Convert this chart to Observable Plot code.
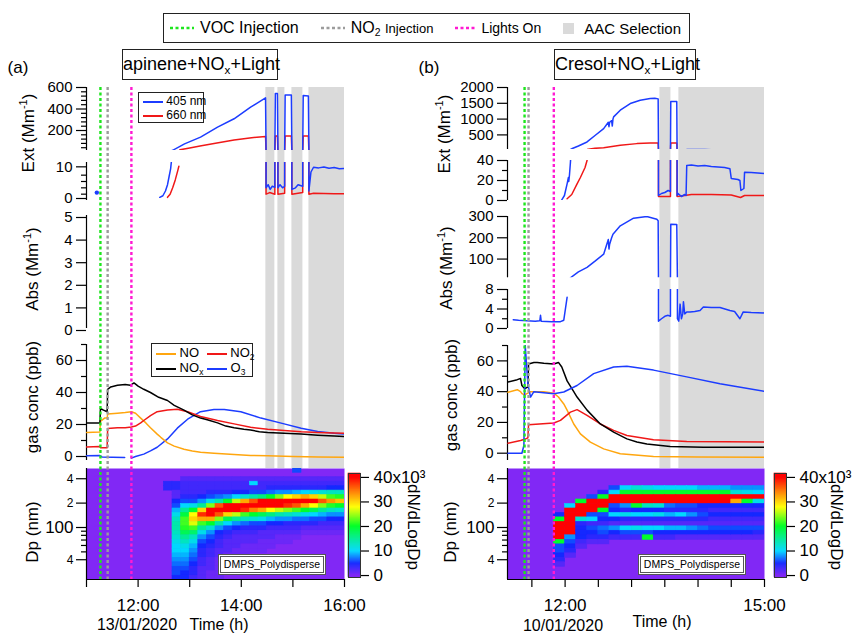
<!DOCTYPE html>
<html><head><meta charset="utf-8">
<script src="https://cdn.jsdelivr.net/npm/d3@7"></script>
<script src="https://cdn.jsdelivr.net/npm/@observablehq/plot@0.6"></script>
<style>
body{margin:0;background:#fff;}
#root{position:relative;width:853px;height:634px;overflow:hidden;font-family:"Liberation Sans",Arial,Helvetica,sans-serif;color:#000;}
sub{font-size:0.65em;vertical-align:-0.3em;line-height:0;}
sup{font-size:0.65em;vertical-align:0.55em;line-height:0;}
.box{position:absolute;border:1.5px solid #222;background:#fff;box-sizing:border-box;white-space:nowrap;}
</style></head><body><div id="root"></div>
<script>
// ---------------- DATA ----------------
// times in decimal hours
const timeTicksA = [11, 12, 13, 14, 15, 16];
const timeLabelsA = {12: "12:00", 14: "14:00", 16: "16:00"};
const timeTicksB = [11.5, 12, 12.5, 13, 13.5, 14, 14.5, 15];
const timeLabelsB = {12: "12:00", 15: "15:00"};

const vocInjection = {a: 11.27, b: 11.39};
const no2Injection = {a: 11.41, b: 11.45};
const lightsOn = {a: 11.87, b: 11.83};
const aacA = [[14.476, 14.650], [14.709, 14.845], [14.981, 15.194], [15.311, 16.0]];
const aacB = [[13.427, 13.592], [13.712, 15.0]];

// Ext (Mm-1), panel a
const ext405A_early = [[11.2, 2.5]];
const ext405A = [
 [12.42,1],[12.48,1.5],[12.53,3],[12.57,5],[12.60,7.5],[12.63,10],[12.65,13],[12.67,16],[12.90,76],[13.21,138],[13.54,231],[13.86,309],[14.18,417],[14.47,504],
 [14.48,4],[14.52,5],[14.56,3.5],[14.60,4.5],[14.65,4.2],
 [14.66,545],[14.70,545],
 [14.71,4],[14.75,5],[14.80,4],[14.84,4.5],
 [14.85,530],[14.97,530],
 [14.98,3.5],[15.05,4],[15.10,5],[15.19,4.5],
 [15.20,525],[15.30,520],
 [15.31,3],[15.35,9],[15.40,10.5],[15.50,10.3],[15.60,10.6],[15.70,10.2],[15.80,10.4],[15.90,10],[16.0,10.1]
];
const ext660A = [
 [12.57,1],[12.62,2],[12.67,4],[12.72,6.5],[12.77,9.5],[12.79,10.8],[null,null],
 [12.81,20],[13.0,38],[13.2,55],[13.5,82],[13.86,112],[14.2,133],[14.47,145],
 [14.48,2],[14.55,2.5],[14.65,2],
 [14.66,150],[14.70,150],
 [14.71,2],[14.84,2.3],
 [14.85,148],[14.97,148],
 [14.98,2],[15.19,2.5],
 [15.20,148],[15.30,148],
 [15.31,2],[15.40,2.3],[15.60,2.2],[15.80,2.1],[16.0,2.1]
];
// Ext (Mm-1), panel b
const ext405B = [
 [11.95,0.7],[11.99,5],[12.03,16.7],[12.05,23],[12.055,19],[12.065,25],[12.08,38],[12.10,60],[12.2,150],[12.33,277],[12.45,480],[12.58,700],[12.65,900],[12.66,760],[12.67,900],[12.70,950],[12.71,780],[12.72,1000],[12.73,1070],[12.83,1281],[12.98,1493],[13.13,1598],[13.28,1651],[13.35,1660],[13.40,1640],
 [13.405,5],[13.45,7],[13.50,8],[13.55,10],[13.585,9],
 [13.59,1560],[13.68,1555],
 [13.685,5],[13.70,7],[13.75,4],[13.80,6],[13.82,5],
 [13.83,35],[13.9,35.5],[14.0,34.5],[14.1,35],[14.2,34],[14.3,33.5],[14.4,33],[14.48,31.7],
 [14.50,22],[14.6,21],[14.63,20],[14.645,10],[14.69,12],
 [14.70,28.3],[14.8,28],[14.9,27.5],[15.0,27]
];
const ext660B = [
 [12.03,1.7],[12.10,6],[12.18,16.7],[12.23,23],[12.30,33],[12.33,40],[12.35,50],[12.45,75],[12.58,97],[12.83,171],[13.08,224],[13.28,240],[13.40,245],
 [13.405,4],[13.50,4],[13.585,4],
 [13.59,245],[13.68,245],
 [13.685,4],[13.80,5],[13.90,6],[14.20,6],[14.50,5.5],[14.64,3],[14.70,5],[15.0,5]
];
// Abs (Mm-1), panel b (405 nm)
const abs405B = [
 [11.22,1.8],[11.3,1.7],[11.43,1.6],[11.55,1.5],[11.62,1.6],[11.63,2.7],[11.64,1.5],[11.8,1.4],[11.93,1.4],[11.98,1.7],[12.03,6.4],[null,null],
 [12.08,12],[12.2,40],[12.33,61],[12.45,90],[12.58,123],[12.65,192],[12.66,147],[12.67,170],[12.70,200],[12.72,217],[12.83,256],[13.03,292],[13.23,300],[13.38,287],[13.40,280],
 [13.405,1.5],[13.45,2],[13.50,2.5],[13.55,2.7],[13.585,2.5],
 [13.59,264],[13.68,262],
 [13.69,2],[13.71,1.5],[13.73,5],[13.75,2],[13.77,3],[13.78,5.5],[13.80,3],[13.83,3.4],[13.88,3.4],[13.95,3.5],[14.03,3.7],[14.08,4.4],[14.2,4.3],[14.33,4.3],[14.48,3.7],[14.55,3.5],[14.63,2],[14.68,3.4],[14.8,3.3],[15.0,3.2]
];
// gas conc (ppb), panel a
const noxA = [[11.00,21],[11.15,21],[11.26,21],[11.27,30],[11.33,29],[11.40,28],[11.41,42],[11.47,43.5],[11.6,44.5],[11.75,45],[11.85,44.5],[11.92,46],[12.0,44],[12.11,42],[12.24,40],[12.4,37],[12.57,35],[12.7,32],[12.89,29],[13.05,26],[13.21,24],[13.34,23],[13.54,21],[13.7,19],[13.86,18],[14.05,17],[14.18,16.5],[14.35,15.5],[14.51,15],[14.83,14.5],[15.16,14],[15.48,13.3],[15.8,12.8],[16.0,12.5]];
const noA = [[11.00,15],[11.26,15.3],[11.27,22],[11.35,24],[11.40,24],[11.41,26.5],[11.6,27],[11.75,27.5],[11.87,28],[11.95,27],[12.05,24],[12.15,21],[12.24,18],[12.37,14],[12.44,12],[12.57,8.5],[12.7,6.5],[12.89,4.5],[13.05,3.5],[13.21,2.7],[13.47,2],[13.86,1.2],[14.18,0.7],[14.51,0.4],[15.0,0],[15.5,-0.3],[16.0,-0.4]];
const no2A = [[11.00,6],[11.26,6.2],[11.27,5.5],[11.40,5.5],[11.41,17.5],[11.6,18],[11.75,18],[11.87,18.5],[11.95,19],[12.05,21],[12.11,22.5],[12.24,25.5],[12.37,28],[12.57,29],[12.76,29.5],[12.96,28],[13.21,25],[13.54,22.5],[13.86,20.4],[14.18,18.3],[14.51,17],[14.83,16.3],[15.16,15.5],[15.48,15],[15.8,14.7],[16.0,14.5]];
const o3A = [[11.00,0.5],[11.26,0.6],[11.3,-0.3],[11.5,-0.5],[11.74,-0.6],[null,null],[11.87,-1],[11.95,0],[12.11,1.5],[12.24,3.5],[12.37,5.8],[12.57,11],[12.76,17.7],[12.96,23.3],[13.21,28],[13.47,29.4],[13.67,29.4],[13.99,28],[14.38,24],[14.83,20.4],[15.16,17.7],[15.48,15.6],[15.8,14.5],[16.0,14]];
// gas conc (ppb), panel b
const noxB = [[11.14,46.3],[11.28,47.8],[11.33,48.5],[11.35,44],[11.39,42],[11.44,43],[11.45,58],[11.53,59],[11.58,59],[11.68,58.5],[11.83,58],[11.90,59],[11.95,56],[12.03,47],[12.13,40],[12.18,36.5],[12.33,28],[12.53,19],[12.73,13.7],[12.93,9.3],[13.08,7.3],[13.23,6],[13.58,4.3],[14.08,3.9],[14.5,3.9],[15.0,3.9]];
const noB = [[11.14,39.6],[11.28,41.3],[11.33,40],[11.35,38.7],[11.39,38],[11.44,39],[11.48,40],[11.68,40],[11.83,39],[11.90,36.5],[11.98,32],[12.03,28],[12.13,19],[12.23,12.6],[12.38,7.2],[12.58,2.8],[12.83,-0.4],[13.33,-2.2],[14.0,-2.5],[15.0,-2.6]];
const no2B = [[11.14,6.5],[11.33,8.3],[11.39,9],[11.44,10],[11.45,18.5],[11.83,19.6],[11.93,21.3],[12.08,26.7],[12.18,28.3],[12.33,24.6],[12.53,19],[12.73,14.8],[12.93,11.5],[13.33,8.7],[13.83,7.6],[15.0,7.2]];
const o3B = [[11.14,0],[11.35,0],[11.38,5],[11.40,70],[11.44,45],[11.48,36.5],[11.53,40],[11.83,38.7],[11.98,39.8],[12.18,44],[12.43,51.7],[12.73,56],[12.93,56.5],[13.33,54],[13.83,49.6],[14.33,45.2],[15.0,40.2]];

// DMPS size distribution: bin centre diameters (nm), top to bottom
const dmpsDp = [505,445,392,345,304,268,236,208,183,161,142,125,110,97,85.5,75,66,58,51,45,39.6,34.9,30.7,27,23.8];
// dN/dLogDp (x10^3) per 10-min time bin, each column listed top (large Dp) to bottom
const dmpsTimesA = ["12:30","12:40","12:50","13:00","13:10","13:20","13:30","13:40","13:50","14:00","14:10","14:20","14:30","14:40","14:50","15:00","15:10","15:20","15:30","15:40","15:50"];
const dmpsA = [
 [0,0,0,4,4,0,0,0,0,0,0,0,0,0,0,0,0,0,0,0,0,0,0,0,0],
 [0,0,0,4,4,2,2,5,6,9,11,13,14,14,13,12,11,10,10,9,8,7,6,6,5],
 [0,0,2,3,3,3,4,6,10,15,19,22,22,21,18,15,13,11,10,9,8,7,6,5,5],
 [0,0,2,3,3,3,4,6,11,20,28,30,27,22,17,13,11,9,8,7,6,5,4,4,3],
 [0,0,2,3,3,3,5,8,15,30,38,32,22,15,11,8,6,5,4,4,3,3,2,2,2],
 [0,0,2,3,3,4,6,11,24,42,42,32,20,12,8,6,5,4,3,3,2,2,2,1,1],
 [0,0,2,3,3,4,7,14,36,44,36,24,14,8,5,4,3,3,2,2,1,1,1,1,1],
 [0,0,2,3,3,4,8,20,42,44,30,18,10,6,4,3,2,2,2,1,1,1,1,0,0],
 [0,0,2,3,3,5,10,26,43,40,26,15,8,5,3,2,2,2,1,1,1,0,0,0,0],
 [0,0,2,3,3,5,12,32,44,38,22,13,7,4,3,2,2,1,1,1,0,0,0,0,0],
 [0,0,2,10,3,6,14,36,44,34,20,12,6,4,3,2,2,1,1,0,0,0,0,0,0],
 [0,0,2,3,3,6,16,40,43,32,18,11,6,4,2,2,1,1,1,0,0,0,0,0,0],
 [0,0,2,3,4,7,20,42,42,28,16,9,5,3,2,2,1,1,0,0,0,0,0,0,0],
 [0,0,2,3,4,8,24,44,40,26,14,8,5,3,2,1,1,0,0,0,0,0,0,0,0],
 [0,0,2,3,4,8,28,44,38,24,13,8,4,3,2,1,1,0,0,0,0,0,0,0,0],
 [6,0,2,3,4,9,30,44,36,22,12,7,4,3,2,1,0,0,0,0,0,0,0,0,0],
 [0,0,2,3,4,10,32,42,32,20,11,7,4,2,1,0,0,0,0,0,0,0,0,0,0],
 [0,0,2,3,4,11,30,40,28,18,10,6,4,2,1,0,0,0,0,0,0,0,0,0,0],
 [0,0,2,3,4,12,26,36,24,15,9,6,3,2,1,0,0,0,0,0,0,0,0,0,0],
 [0,0,2,3,5,13,22,33,21,13,8,5,3,2,1,0,0,0,0,0,0,0,0,0,0],
 [0,0,2,3,5,13,21,31,20,12,8,5,3,2,1,0,0,0,0,0,0,0,0,0,0]
];
const dmpsTimesB = ["11:50","12:00","12:10","12:20","12:30","12:40","12:50","13:00","13:10","13:20","13:30","13:40","13:50","14:00","14:10","14:20","14:30","14:40","14:50"];
const dmpsB = [
 [0,0,0,0,0,0,0,0,0,0,5,20,45,45,45,45,20,6,6,5,4,2,0,0,0],
 [0,0,0,0,0,0,0,0,10,45,45,45,45,45,40,8,6,5,4,2,0,0,0,0,0],
 [0,0,0,0,0,0,0,20,45,45,45,12,4,5,5,5,3,2,0,0,0,0,0,0,0],
 [0,0,0,0,0,0,6,45,45,45,6,10,3,6,5,4,2,0,0,0,0,0,0,0,0],
 [0,0,0,0,0,4,20,45,45,20,6,5,3,7,6,4,2,0,0,0,0,0,0,0,0],
 [0,0,0,0,6,10,45,45,6,5,10,5,2,8,5,3,0,0,0,0,0,0,0,0,0],
 [0,0,0,0,10,20,45,45,8,4,11,4,2,10,6,3,0,0,0,0,0,0,0,0,0],
 [0,0,0,0,12,20,45,45,20,5,10,4,2,11,6,3,0,0,0,0,0,0,0,0,0],
 [0,0,0,0,11,20,45,45,13,5,10,4,2,10,6,20,0,0,0,0,0,0,0,0,0],
 [0,0,0,0,10,20,45,45,12,5,11,4,2,10,5,3,0,0,0,0,0,0,0,0,0],
 [0,0,0,0,10,20,45,45,7,4,9,4,2,9,5,3,0,0,0,0,0,0,0,0,0],
 [0,0,0,0,10,20,45,45,6,4,10,4,2,9,5,2,0,0,0,0,0,0,0,0,0],
 [0,0,0,0,10,20,45,45,6,4,8,4,2,8,5,2,0,0,0,0,0,0,0,0,0],
 [0,0,0,0,9,20,45,45,5,4,6,4,2,7,5,2,0,0,0,0,0,0,0,0,0],
 [0,0,0,0,9,20,45,45,5,3,5,3,2,6,5,2,0,0,0,0,0,0,0,0,0],
 [0,0,0,0,9,20,45,45,5,3,5,3,2,6,5,2,0,0,0,0,0,0,0,0,0],
 [0,0,0,0,8,12,45,32,5,3,5,3,2,6,5,2,0,0,0,0,0,0,0,0,0],
 [0,0,0,0,8,11,45,20,5,3,5,3,2,6,5,2,0,0,0,0,0,0,0,0,0],
 [0,0,0,0,8,10,45,11,5,3,5,3,2,6,4,2,0,0,0,0,0,0,0,0,0]
];
const colorbarTicks = [0, 10, 20, 30, 40];

// ---------------- STYLE / LAYOUT ----------------
const FONT = '"Liberation Sans", Arial, Helvetica, sans-serif';
const BLUE = "#1c3cff", RED = "#f01818", ORANGE = "#ffa60f", BLACK = "#000";
const C_VOC = "#1ee61e", C_NO2 = "#9c9c9c", C_LIGHT = "#ff1ad2", BAND = "#dadada";
const ZERO = "#8128f5";
const colorScale = {type: "linear", domain: [0, 5, 10, 20, 28, 34, 40],
  range: [ZERO, "#1428ff", "#00d8ff", "#00ff2a", "#ffff00", "#ff8000", "#ff0000"], clamp: true};

const cols = {
  a: {x0: 86, x1: 344, domain: [11, 16]},
  b: {x0: 507, x1: 764, domain: [11.1333, 15]}
};
const root = document.getElementById("root");
function put(el, left, top, z) {
  el.style.position = "absolute"; el.style.left = left + "px"; el.style.top = top + "px"; el.style.zIndex = z;
  root.appendChild(el);
}
function mk(c, y0, y1, yOpt, marks, o = {}) {
  const C = cols[c];
  const ml = o.ml ?? 80, mr = o.mr ?? 4, mt = o.mt ?? 4, mb = o.mb ?? 4;
  const opts = {
    width: C.x1 - C.x0 + ml + mr, height: y1 - y0 + mt + mb,
    marginLeft: ml, marginRight: mr, marginTop: mt, marginBottom: mb,
    x: o.xAxis ? {domain: C.domain} : {domain: C.domain, axis: null},
    style: {background: "transparent", fontFamily: FONT, fontSize: "16px", color: "#000", overflow: "visible"},
    marks
  };
  if (yOpt) opts.y = yOpt;
  if (o.color) opts.color = o.color;
  put(Plot.plot(opts), C.x0 - ml, y0 - mt, o.z ?? 2);
}
const num = d => String(d);
function yAx(major, minor, fmt = num, extra = {}) {
  const m = [Plot.axisY({ticks: major, tickSize: 10, tickPadding: 4, tickFormat: fmt, label: null, strokeWidth: 1.2, fontSize: 15, ...extra})];
  if (minor) m.push(Plot.axisY({ticks: minor, tickSize: 5, tickFormat: () => "", label: null, strokeWidth: 1.2}));
  return m;
}
const axLine = c => Plot.ruleX([cols[c].domain[0]], {stroke: "#000", strokeWidth: 1.2});
const ln = (data, stroke, w = 1.5) => Plot.line(data, {x: d => d[0], y: d => d[1], stroke, strokeWidth: w, clip: true});

// ---------------- BACKGROUND BANDS ----------------
mk("a", 87, 468, null, [Plot.rect(aacA, {x1: d => d[0], x2: d => d[1], fill: BAND})], {mt: 0, mb: 0, z: 0});
mk("b", 87, 468, null, [Plot.rect(aacB, {x1: d => d[0], x2: d => d[1], fill: BAND})], {mt: 0, mb: 0, z: 0});

// ---------------- PANEL A ----------------
mk("a", 87, 150, {domain: [14, 600]}, [
  axLine("a"), ...yAx([200, 400, 600], [40, 80, 120, 160, 240, 280, 320, 360, 440, 480, 520, 560]),
  ln(ext660A, RED), ln(ext405A, BLUE)
]);
mk("a", 162, 200, {domain: [0, 12]}, [
  axLine("a"), ...yAx([0, 10], [2, 4, 6, 8], num, {dy: -2}),
  ln(ext660A, RED), ln(ext405A, BLUE),
  Plot.dot(ext405A_early, {x: d => d[0], y: d => d[1], fill: BLUE, r: 2.2})
]);
mk("a", 215, 328, {domain: [0, 5]}, [axLine("a"), ...yAx([0, 1, 2, 3, 4, 5], null, num, {dy: 2})]);
mk("a", 344, 460, {domain: [-2.5, 70]}, [
  axLine("a"), ...yAx([0, 20, 40, 60], [10, 30, 50, 70]),
  ln(o3A, BLUE), ln(noA, ORANGE), ln(no2A, RED), ln(noxA, BLACK)
]);

// ---------------- PANEL B ----------------
mk("b", 87.3, 149.3, {domain: [38, 2000]}, [
  axLine("b"), ...yAx([500, 1000, 1500, 2000]),
  ln(ext660B, RED), ln(ext405B, BLUE)
]);
mk("b", 160, 200, {domain: [0, 40]}, [
  axLine("b"), ...yAx([0, 20, 40], [10, 30]),
  ln(ext660B, RED), ln(ext405B, BLUE)
]);
mk("b", 215.7, 277, {domain: [12, 300]}, [
  axLine("b"), ...yAx([100, 200, 300]), ln(abs405B, BLUE)
]);
mk("b", 289.3, 328.3, {domain: [0, 8]}, [
  axLine("b"), ...yAx([0, 4, 8], [2, 6]), ln(abs405B, BLUE)
]);
mk("b", 345, 460, {domain: [-4.75, 70]}, [
  axLine("b"), ...yAx([0, 20, 40, 60], [10, 30, 50, 70]),
  ln(noB, ORANGE), ln(no2B, RED), ln(noxB, BLACK), ln(o3B, BLUE)
]);

// ---------------- DMPS HEATMAPS ----------------
const hm = s => { const [h, m] = s.split(":").map(Number); return h + m / 60; };
function dpEdges(c) {
  const e = [c[0] * Math.sqrt(c[0] / c[1])];
  for (let i = 0; i < c.length - 1; i++) e.push(Math.sqrt(c[i] * c[i + 1]));
  const n = c.length; e.push(c[n - 1] * Math.sqrt(c[n - 1] / c[n - 2]));
  return e;
}
function cells(times, columns) {
  const e = dpEdges(dmpsDp), out = [];
  columns.forEach((col, j) => {
    const t1 = hm(times[j]), t2 = t1 + 1 / 6;
    col.forEach((v, i) => { if (v > 0) out.push({t1, t2, d1: e[i + 1], d2: e[i], v}); });
  });
  return out;
}
const dpLabels = {400: "4", 200: "2", 40: "4"};
function heat(c, times, columns, ticks, labels) {
  const dom = [22.8, 535];
  mk(c, 468, 579, {type: "log", domain: dom}, [
    Plot.frame({fill: ZERO, stroke: "none"}),
    Plot.rect(cells(times, columns), {x1: "t1", x2: "t2", y1: "d1", y2: "d2", fill: "v", stroke: "v", strokeWidth: 0.6, clip: true}),
    axLine(c), Plot.ruleY([dom[0]], {stroke: "#000", strokeWidth: 1.2}),
    Plot.axisY({ticks: [400, 200, 40], tickSize: 10, tickPadding: 3, tickFormat: d => dpLabels[d], label: null, fontSize: 12, strokeWidth: 1.2}),
    Plot.axisY({ticks: [100], tickSize: 10, tickPadding: 3, tickFormat: num, label: null, fontSize: 17, strokeWidth: 1.2}),
    Plot.axisY({ticks: [50, 60, 70, 80, 90], tickSize: 5, tickFormat: () => "", label: null, strokeWidth: 1.2}),
    Plot.axisX({ticks, tickSize: 8, tickPadding: 11, tickFormat: d => labels[d] ?? "", label: null, fontSize: 17, strokeWidth: 1.2})
  ], {mb: 50, xAxis: true, color: colorScale, z: 1});
}
heat("a", dmpsTimesA, dmpsA, timeTicksA, timeLabelsA);
heat("b", dmpsTimesB, dmpsB, timeTicksB, timeLabelsB);

// colour bars
const cbSteps = d3.range(-0.8, 41.6, 0.4);
function colorbar(left) {
  const svg = Plot.plot({
    width: 12 + 2 + 80, height: 104 + 8, marginLeft: 2, marginRight: 80, marginTop: 4, marginBottom: 4,
    x: {domain: [0, 1], axis: null}, y: {domain: [-0.8, 41.6]}, color: colorScale,
    style: {background: "transparent", fontFamily: FONT, fontSize: "17px", color: "#000", overflow: "visible"},
    marks: [
      Plot.rect(cbSteps, {x1: () => 0, x2: () => 1, y1: d => d, y2: d => d + 0.4, fill: d => Math.max(0, d + 0.2), stroke: d => Math.max(0, d + 0.2), strokeWidth: 0.6}),
      Plot.frame({stroke: "#333", strokeWidth: 1}),
      Plot.axisY({anchor: "right", ticks: colorbarTicks, tickSize: 8, tickPadding: 5, tickFormat: d => d === 40 ? "40x10³" : String(d), label: null, fontSize: 17, strokeWidth: 1.2})
    ]
  });
  put(svg, left - 2, 473 - 4, 3);
}
colorbar(348);
colorbar(774);

// ---------------- EVENT LINES (top layer) ----------------
function rules(c) {
  mk(c, 87, 579, null, [
    Plot.ruleX([no2Injection[c]], {stroke: C_NO2, strokeWidth: 2.4, strokeDasharray: "3,2.5"}),
    Plot.ruleX([vocInjection[c]], {stroke: C_VOC, strokeWidth: 2.4, strokeDasharray: "3,2.5"}),
    Plot.ruleX([lightsOn[c]], {stroke: C_LIGHT, strokeWidth: 2.4, strokeDasharray: "3,2.5"})
  ], {mt: 0, mb: 0, z: 5});
}
rules("a"); rules("b");

// ---------------- TEXT ----------------
function txt(html, x, y, o = {}) {
  const d = document.createElement("div");
  d.innerHTML = html;
  d.style.cssText = `position:absolute;left:${x}px;top:${y}px;font-size:${o.size ?? 17}px;white-space:nowrap;line-height:1;transform:translate(-50%,-50%) rotate(${o.rot ?? 0}deg);z-index:6;${o.css ?? ""}`;
  root.appendChild(d);
  return d;
}
function boxEl(left, top, w, h, html, css = "") {
  const d = document.createElement("div");
  d.className = "box";
  d.style.cssText += `left:${left}px;top:${top}px;width:${w}px;height:${h}px;z-index:6;${css}`;
  d.innerHTML = html;
  root.appendChild(d);
  return d;
}
const dash = (color, w = 22) => `<svg width="${w}" height="6" style="vertical-align:middle"><line x1="0" y1="3" x2="${w}" y2="3" stroke="${color}" stroke-width="2.6" stroke-dasharray="3,2.5"/></svg>`;
const solid = (color, w = 20) => `<svg width="${w}" height="6" style="vertical-align:middle"><line x1="0" y1="3" x2="${w}" y2="3" stroke="${color}" stroke-width="2"/></svg>`;

// top legend
boxEl(163, 13, 527, 30,
  `<div style="display:flex;align-items:center;height:100%;padding:0 6px;gap:6px;font-size:16px;">
    ${dash(C_VOC, 24)}<span style="margin-right:16px">VOC Injection</span>
    ${dash(C_NO2, 24)}<span style="margin-right:16px">NO<sub>2</sub> <span style="font-size:13px">Injection</span></span>
    ${dash(C_LIGHT, 20)}<span style="margin-right:16px;font-size:14px">Lights On</span>
    <span style="display:inline-block;width:11px;height:11px;background:${BAND};margin-right:4px"></span><span style="font-size:15px">AAC Selection</span>
  </div>`);

// panel letters and titles
txt("(a)", 18, 67);
txt("(b)", 429, 67);
boxEl(122, 49, 156, 31, `<div style="text-align:center;line-height:28px;font-size:18px">apinene+NO<sub>x</sub>+Light</div>`);
boxEl(554, 49, 142, 31, `<div style="text-align:center;line-height:28px;font-size:18px">Cresol+NO<sub>x</sub>+Light</div>`);

// axis titles
const ext = "Ext (Mm<sup>-1</sup>)", abs = "Abs (Mm<sup>-1</sup>)";
txt(ext, 28, 133, {rot: -90}); txt(abs, 32, 269, {rot: -90});
txt("gas conc (ppb)", 32, 397, {rot: -90}); txt("Dp (nm)", 32, 532, {rot: -90});
txt(ext, 444, 134, {rot: -90}); txt(abs, 446, 268, {rot: -90});
txt("gas conc (ppb)", 451, 395, {rot: -90}); txt("Dp (nm)", 450, 532, {rot: -90});
txt("dN/dLogDp", 413, 527, {rot: 90}); txt("dN/dLogDp", 836, 527, {rot: 90});
txt("13/01/2020", 137, 625, {size: 16}); txt("Time (h)", 219, 625, {size: 16});
txt("10/01/2020", 563, 626, {size: 16}); txt("Time (h)", 662, 622, {size: 16});

// in-plot legends
boxEl(138, 92, 66, 31, `<div style="font-size:12px;line-height:14px;padding:1px 0 0 4px">${solid(BLUE)} 405 nm<br>${solid(RED)} 660 nm</div>`, "border-width:1px");
boxEl(151, 343, 102, 34, `<div style="font-size:13px;line-height:15px;padding:1px 0 0 4px">${solid(ORANGE)} NO <span style="margin-left:4px">${solid(RED)}</span> NO<sub>2</sub><br>${solid(BLACK)} NO<sub>x</sub> <span>${solid(BLUE)}</span> O<sub>3</sub></div>`, "border-width:1px");

// DMPS labels
boxEl(218, 554, 108, 21, `<div style="font-size:10.5px;text-align:center;line-height:15px">DMPS_Polydisperse</div>`, "border:3px double #555");
boxEl(638, 554, 108, 21, `<div style="font-size:10.5px;text-align:center;line-height:15px">DMPS_Polydisperse</div>`, "border:3px double #555");
</script></body></html>
